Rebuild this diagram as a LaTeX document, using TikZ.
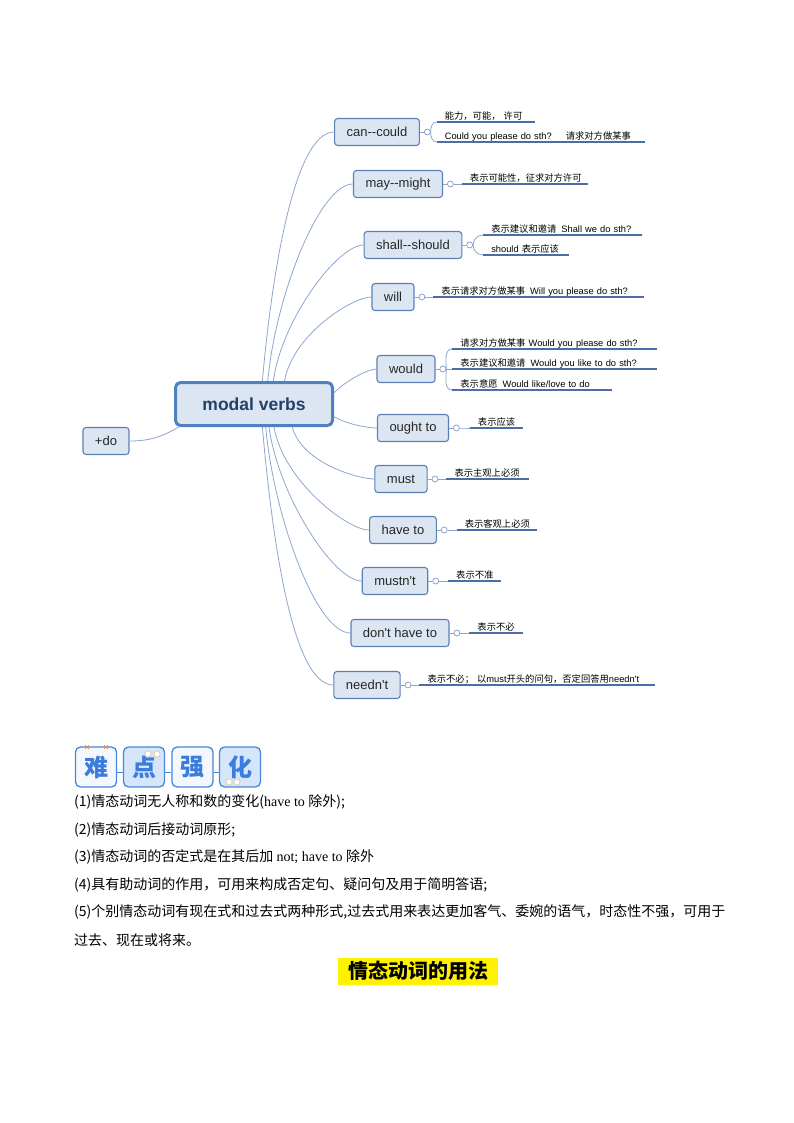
\documentclass[tikz,border=0pt]{standalone}
\usepackage{fontspec}
\setmainfont{Liberation Sans}
\newfontfamily\zhfont{Noto Sans CJK SC}
\newfontfamily\enfont{Liberation Serif}
\usetikzlibrary{positioning}

\newcommand{\zh}[1]{{\zhfont #1}}
\def\leafsize{9.3}
\definecolor{boxfill}{RGB}{220, 230, 242}
\definecolor{boxedge}{RGB}{92, 128, 182}
\definecolor{topicedge}{RGB}{79, 128, 194}
\definecolor{topictext}{RGB}{36, 64, 104}
\definecolor{linkcolor}{RGB}{140, 166, 204}
\definecolor{knobcolor}{RGB}{132, 158, 198}
\definecolor{leafline}{RGB}{74, 110, 166}
\definecolor{iconedge}{RGB}{74, 134, 216}
\definecolor{iconink}{RGB}{58, 125, 222}
\definecolor{iconpale}{RGB}{244, 248, 254}
\definecolor{iconblue}{RGB}{213, 229, 250}
\definecolor{dotcolor}{RGB}{222, 204, 160}

\begin{document}
\begin{tikzpicture}[x=1pt, y=1pt,
    topic/.style={draw=topicedge, line width=3pt, fill=boxfill, rounded corners=5pt, minimum width=157, minimum height=43, text=topictext, font=\fontsize{17.5}{20}\selectfont\bfseries},
    branch/.style={draw=boxedge, line width=1.1pt, fill=boxfill, rounded corners=3pt, minimum height=27, inner xsep=12pt, text=black!85, font=\fontsize{13}{15}\selectfont},
    knob/.style={circle, draw=knobcolor, fill=white, line width=0.7pt, minimum size=6pt, inner sep=0pt},
    branchlink/.style={draw=linkcolor, line width=0.8pt},
    leaf/.style={anchor=south west, inner xsep=8pt, inner ysep=2.5pt, text depth=0pt, align=left, font=\fontsize{\leafsize}{11}\selectfont},
    leafbar/.style={draw=leafline, line width=1.8pt},
    iconbox/.style={draw=iconedge, line width=1.3pt, rounded corners=5pt, minimum width=41, minimum height=40, inner sep=0pt, text=iconink, font=\zhfont\bfseries\fontsize{24}{26}\selectfont},
    iconlink/.style={draw=iconedge, line width=1.5pt},
    note/.style={anchor=west, inner sep=0pt, font=\zhfont\fontsize{14}{16}\selectfont},
    titlebox/.style={fill=yellow, minimum width=160, minimum height=27, inner sep=0pt, font=\zhfont\bfseries\fontsize{20}{22}\selectfont}
    ]
    \useasboundingbox (0,0) rectangle (793,-1123);

    \newcommand{\branchlist}{
        can/{can-{}-could}/377/132/70/85,
        may/{may-{}-might}/398/184/59/85,
        shall/{shall-{}-should}/413/245/50/82,
        will/{will}/393/297/37/80,
        would/{would}/406/369/8/45,
        ought/{ought to}/413/428/351/-30,
        must/{must}/401/479/329/-75,
        have/{have to}/403/530/311/-80,
        mustnt/{mustn\textquotesingle t}/395/581/303/-82,
        dont/{don\textquotesingle t have to}/400/633/297/-85,
        neednt/{needn\textquotesingle t}/367/685/290/-85
    }

    \newcommand{\leaflist}{
        can/10/6/82/{\zh{能力，可能， 许可}},
        can/-10/6/192/{Could you please do sth?\hspace{14pt}\zh{请求对方做某事}},
        may/0/8/110/{\zh{表示可能性，征求对方许可}},
        shall/10/10/142/{\zh{表示建议和邀请}\hspace{5pt}Shall we do sth?},
        shall/-10/10/69/{should \zh{表示应该}},
        will/0/8/194/{\zh{表示请求对方做某事}\hspace{5pt}Will you please do sth?},
        would/20/6/188/{\zh{请求对方做某事} Would you please do sth?},
        would/0/6/188/{\zh{表示建议和邀请}\hspace{5pt}Would you like to do sth?},
        would/-21/6/143/{\zh{表示意愿}\hspace{5pt}Would like/love to do},
        ought/0/10/37/{\zh{表示应该}},
        must/0/8/66/{\zh{表示主观上必须}},
        have/0/9/64/{\zh{表示客观上必须}},
        mustnt/0/9/37/{\zh{表示不准}},
        dont/0/9/37/{\zh{表示不必}},
        neednt/0/8/219/{\zh{表示不必； 以}must\zh{开头的问句，否定回答用}needn\textquotesingle t}
    }

    \newcommand{\notelist}{
        {(1)情态动词无人称和数的变化({\enfont have to }除外);},
        {(2)情态动词后接动词原形;},
        {(3)情态动词的否定式是在其后加 {\enfont not; have to }除外},
        {(4)具有助动词的作用，可用来构成否定句、疑问句及用于简明答语;},
        {(5)个别情态动词有现在式和过去式两种形式,过去式用来表达更加客气、委婉的语气，时态性不强，可用于},
        {过去、现在或将来。}
    }

    % Central topic
    \node[topic] (mv) at (254,-404) {modal verbs};
    \node[branch] (do) at (106,-441) {+do};
    \draw[branchlink] (mv.197) to[out=210, in=0] (do.east);

    % Branches
    \foreach \key/\txt/\px/\py/\from/\bend in \branchlist {
        \node[branch] (\key) at (\px,-\py) {\txt};
        \node[knob, right=4pt of \key] (k\key) {};
        \draw[branchlink] (mv.\from) to[out=\bend, in=180, in looseness=0.4] (\key.west);
        \draw[branchlink] (\key.east) -- (k\key.west);
    }

    % Leaves
    \foreach [count = \i] \key/\dy/\dx/\w/\txt in \leaflist {
        \node[leaf, text width=\w pt, at=(k\key.east), xshift=\dx pt, yshift=\dy pt] (leaf\i) {\txt};
        \pgfmathsetmacro{\outangle}{\dy>0 ? 90 : (\dy<0 ? -90 : 0)}
        \draw[branchlink] (k\key.east) to[out=\outangle, in=180] (leaf\i.south west);
        \draw[leafbar] (leaf\i.south west) -- (leaf\i.south east);
    }

    % Heading icons
    \foreach [count = \i] \ch/\px/\shade in {难/96/iconpale, 点/144/iconblue, 强/192.5/iconpale, 化/240/iconblue} {
        \node[iconbox, fill=\shade] (icon\i) at (\px,-767) {\ch};
    }
    \foreach \i/\j in {1/2, 2/3, 3/4}
        \draw[iconlink] (icon\i.-14) -- (icon\j.194);
    \foreach \px in {87, 106}
        \draw[orange, line width=0.6pt] (\px-2,-745) -- (\px+2,-749) (\px-2,-749) -- (\px+2,-745);
    \foreach \px/\py in {148/754, 157/754, 229/782, 237/782}
        \draw[dotcolor, fill=white, line width=0.8pt] (\px,-\py) circle (3.2);

    % Notes
    \foreach [count = \i] \notetext in \notelist {
        \node[note] (note\i) at (74, {-802-27.6*(\i-1)}) {\notetext};
    }
    \node[titlebox] (title) at (418,-971) {情态动词的用法};
\end{tikzpicture}
\end{document}
